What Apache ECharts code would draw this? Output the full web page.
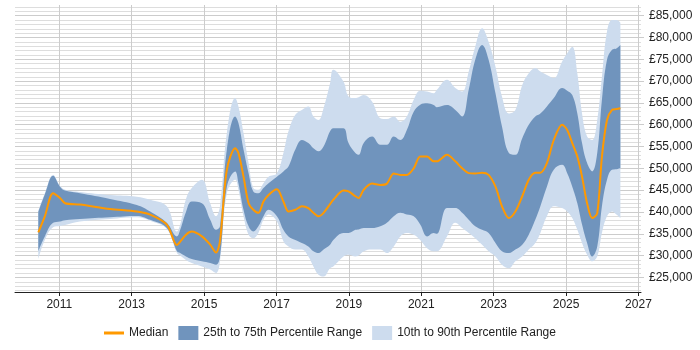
<!DOCTYPE html>
<html>
<head>
<meta charset="utf-8">
<script src="https://cdn.jsdelivr.net/npm/echarts@6/dist/echarts.min.js"></script>
<style>
  html, body { margin: 0; padding: 0; background: #fff; }
  #chart { width: 700px; height: 350px; }
</style>
</head>
<body>
<div id="chart"></div>
<script>
// decimal years of each sample
const years = [
  2010.42, 2010.6, 2010.83, 2011.02, 2011.16, 2011.57, 2012.4, 2013.14, 2013.51, 2013.97,
  2014.25, 2014.34, 2014.5, 2014.66, 2014.94, 2015.17, 2015.33, 2015.44, 2015.63, 2015.86,
  2015.95, 2016.09, 2016.23, 2016.36, 2016.5, 2016.64, 2016.78, 2017.01, 2017.19, 2017.33,
  2017.52, 2017.7, 2017.88, 2018.02, 2018.16, 2018.3, 2018.48, 2018.57, 2018.85, 2018.99,
  2019.18, 2019.27, 2019.41, 2019.64, 2019.87, 2020.05, 2020.24, 2020.42, 2020.6, 2020.79,
  2020.97, 2021.16, 2021.34, 2021.43, 2021.71, 2021.94, 2022.13, 2022.31, 2022.49, 2022.68,
  2022.86, 2023.05, 2023.23, 2023.42, 2023.6, 2023.79, 2023.97, 2024.15, 2024.29, 2024.47,
  2024.66, 2024.89, 2025.03, 2025.17, 2025.31, 2025.44, 2025.58, 2025.72, 2025.86, 2025.99,
  2026.13, 2026.27, 2026.39, 2026.5
];
const p10 = [
  29200, 33600, 36500, 36800, 37000, 37800, 38400, 38800, 38000, 36100,
  30600, 30000, 29000, 28300, 27500, 26800, 26000, 28700, 44300, 47400,
  45100, 39000, 34800, 34000, 35200, 38200, 39400, 37800, 33300, 32100,
  31400, 31400, 29800, 27500, 25600, 25200, 27100, 27500, 29800, 30200,
  29800, 30000, 31000, 31400, 31400, 30600, 32100, 34400, 35200, 34800,
  33600, 31700, 31000, 31000, 34400, 37500, 36300, 35200, 34000, 32500,
  31000, 29800, 27900, 27100, 28700, 29800, 31400, 32900, 35200, 39000,
  41300, 40900, 40100, 38600, 35900, 32900, 30200, 28700, 29800, 35200,
  39000, 40100, 39400, 38600
];
const p25 = [
  31000, 34400, 37500, 37800, 38100, 38400, 38800, 39100, 38200, 36300,
  31000, 30600, 29800, 29200, 28700, 28300, 27900, 29800, 45800, 49300,
  46600, 40500, 36700, 35500, 36700, 39000, 40500, 39000, 35900, 34400,
  33600, 32900, 32100, 31000, 30600, 31400, 32500, 33600, 35200, 35200,
  35900, 36000, 36300, 36300, 36700, 37500, 39000, 39800, 39400, 39000,
  37100, 34400, 35200, 35000, 40900, 40900, 39800, 38200, 36700, 35900,
  35200, 32900, 31000, 30600, 31400, 32500, 34800, 38200, 41300, 45800,
  49700, 50800, 48900, 45800, 42000, 37100, 32900, 29800, 32100, 41300,
  47400, 49700, 49800, 50000
];
const median = [
  35300, 39000, 44300, 43200, 42000, 41700, 40700, 40100, 39400, 37100,
  32400, 33200, 34800, 35500, 34400, 32500, 30700, 33300, 49700, 54600,
  53500, 48100, 42000, 40500, 39800, 42400, 43900, 45200, 42400, 40100,
  40500, 41300, 40900, 39800, 39000, 39800, 41800, 42800, 44900, 44700,
  43600, 43200, 45100, 46500, 46200, 46500, 48800, 48500, 48500, 50000,
  52700, 52700, 51600, 51600, 53100, 51600, 50000, 48900, 48800, 49000,
  48500, 45800, 41300, 38600, 40100, 43600, 47400, 49000, 49000, 51200,
  56500, 60000, 58800, 55800, 52700, 48100, 42000, 38600, 39700, 52700,
  61100, 63400, 63600, 63800
];
const p75 = [
  40000, 44000, 48300, 45800, 44900, 44300, 43000, 41600, 40100, 37500,
  34400, 35900, 40000, 42400, 42000, 38200, 35900, 36700, 54300, 61900,
  60400, 54300, 48900, 44700, 44300, 45500, 46600, 48100, 49300, 50400,
  54300, 56500, 55800, 54600, 53900, 55000, 58500, 59200, 59200, 55800,
  53500, 53100, 55800, 57300, 55400, 55400, 57300, 56500, 58800, 63000,
  64600, 64900, 64500, 64000, 64500, 63400, 61900, 68000, 74900, 78300,
  74900, 67200, 59600, 53500, 53100, 56900, 60000, 61900, 62600, 64200,
  66100, 68400, 67800, 66800, 62600, 55800, 51200, 49300, 53500, 65700,
  74900, 77200, 77500, 78300
];
const p90 = [
  40300, 44300, 48500, 46000, 45100, 44600, 43900, 43500, 42800, 41300,
  35500, 37100, 43000, 45500, 47400, 42000, 39000, 41300, 58100, 66100,
  64200, 58100, 51200, 45500, 45100, 46600, 48100, 48900, 53500, 58500,
  62300, 63400, 64200, 61900, 61100, 63800, 69500, 72600, 69900, 66500,
  66100, 66300, 66800, 65300, 61500, 61300, 61900, 60700, 61900, 65700,
  67800, 67600, 67200, 68000, 70300, 68400, 67600, 72200, 77900, 82100,
  79000, 73300, 66500, 62600, 63400, 69100, 71800, 73000, 72200, 71400,
  70700, 74500, 76400, 77900, 71800, 62600, 57300, 56500, 61100, 71000,
  81400, 84000, 84000, 83400
];
const xTickYears = [2011, 2013, 2015, 2017, 2019, 2021, 2023, 2025, 2027];
const yTicks = [25000, 30000, 35000, 40000, 45000, 50000, 55000, 60000, 65000, 70000, 75000, 80000, 85000];

const colMedian = '#ff9900';
const colInner = '#7094bd';
const colOuter = '#cddcee';

// decimal year -> timestamp
const toTime = (y) => {
  const yr = Math.floor(y);
  const a = Date.UTC(yr, 0, 1), b = Date.UTC(yr + 1, 0, 1);
  return a + (y - yr) * (b - a);
};
const pairs = (vals) => vals.map((v, i) => [toTime(years[i]), v]);
const diff = (hi, lo) => hi.map((v, i) => [toTime(years[i]), v - lo[i]]);
const money = (v) => '£' + String(v).replace(/\B(?=(\d{3})+(?!\d))/g, ',');

const xMin = 2009.776, xMax = 2027.07;
const yMin = 21650, yMax = 87450;
// plot area
const chartH = 350, plotTop = 5, plotBottom = 58;
const pxPerUnit = (chartH - plotTop - plotBottom) / (yMax - yMin);
// light 1,000 step lines: a second grid trimmed to whole thousands
const minorMin = 22000, minorMax = 87000;
const minorGrid = {
  left: 15, right: 59,
  top: plotTop + (yMax - minorMax) * pxPerUnit,
  bottom: plotBottom + (minorMin - yMin) * pxPerUnit
};

const hidden = { opacity: 0, width: 0 };
const font = 'Liberation Sans, Arial, sans-serif';

const chart = echarts.init(document.getElementById('chart'));
chart.setOption({
  animation: false,
  grid: [minorGrid, { left: 15, right: 59, top: plotTop, bottom: plotBottom }],
  legend: {
    left: 99,
    top: 321,
    itemWidth: 20,
    itemHeight: 14,
    itemGap: 10,
    symbolKeepAspect: true,
    textStyle: { fontFamily: font, fontSize: 12, color: '#222' },
    data: [
      { name: 'Median', icon: 'path://M0,0 L20,0 L20,3 L0,3 Z' },
      { name: '25th to 75th Percentile Range', icon: 'rect' },
      { name: '10th to 90th Percentile Range', icon: 'rect' }
    ]
  },
  xAxis: [
    { gridIndex: 0, type: 'value', min: xMin, max: xMax, show: false },
    {
      // time axis carrying the series (stacks on y)
      gridIndex: 1, type: 'time', min: toTime(xMin), max: toTime(xMax), show: false
    },
    {
      // decimal-year axis for ticks, labels and grid lines
      gridIndex: 1, type: 'value', min: xMin, max: xMax, position: 'bottom',
      axisLine: { lineStyle: { color: '#222', width: 1 } },
      axisTick: { length: 4, lineStyle: { color: '#222' }, customValues: xTickYears },
      axisLabel: {
        customValues: xTickYears,
        formatter: (v) => String(v),
        margin: 7,
        fontFamily: font, fontSize: 12, color: '#222'
      },
      splitLine: { show: true, lineStyle: { color: '#cccccc' } }
    }
  ],
  yAxis: [
    {
      gridIndex: 0, type: 'value', position: 'right',
      min: minorMin, max: minorMax, interval: 1000,
      axisLine: { show: false },
      axisTick: { show: false },
      axisLabel: { show: false },
      splitLine: { show: true, lineStyle: { color: '#dddddd' } }
    },
    {
      gridIndex: 1, type: 'value', position: 'right', min: yMin, max: yMax,
      axisLine: { show: false },
      axisTick: { show: true, length: 3, lineStyle: { color: '#cccccc' }, customValues: yTicks },
      axisLabel: {
        customValues: yTicks, formatter: money, margin: 8,
        fontFamily: font, fontSize: 12, color: '#222'
      },
      splitLine: { show: true, lineStyle: { color: '#cccccc' } }
    }
  ],
  series: [
    {
      name: 'p10', type: 'line', stack: 'outer', data: pairs(p10),
      xAxisIndex: 1, yAxisIndex: 1,
      symbol: 'none', smooth: 0.4, lineStyle: hidden, silent: true
    },
    {
      name: '10th to 90th Percentile Range', type: 'line', stack: 'outer', data: diff(p90, p10),
      xAxisIndex: 1, yAxisIndex: 1,
      symbol: 'none', smooth: 0.4, color: colOuter, lineStyle: hidden,
      areaStyle: { color: colOuter, opacity: 1 }
    },
    {
      name: 'p25', type: 'line', stack: 'inner', data: pairs(p25),
      xAxisIndex: 1, yAxisIndex: 1,
      symbol: 'none', smooth: 0.4, lineStyle: hidden, silent: true
    },
    {
      name: '25th to 75th Percentile Range', type: 'line', stack: 'inner', data: diff(p75, p25),
      xAxisIndex: 1, yAxisIndex: 1,
      symbol: 'none', smooth: 0.4, color: colInner, lineStyle: hidden,
      areaStyle: { color: colInner, opacity: 1 }
    },
    {
      name: 'Median', type: 'line', data: pairs(median),
      xAxisIndex: 1, yAxisIndex: 1,
      symbol: 'none', smooth: 0.3, color: colMedian,
      lineStyle: { color: colMedian, width: 2 }
    }
  ]
});
</script>
</body>
</html>
